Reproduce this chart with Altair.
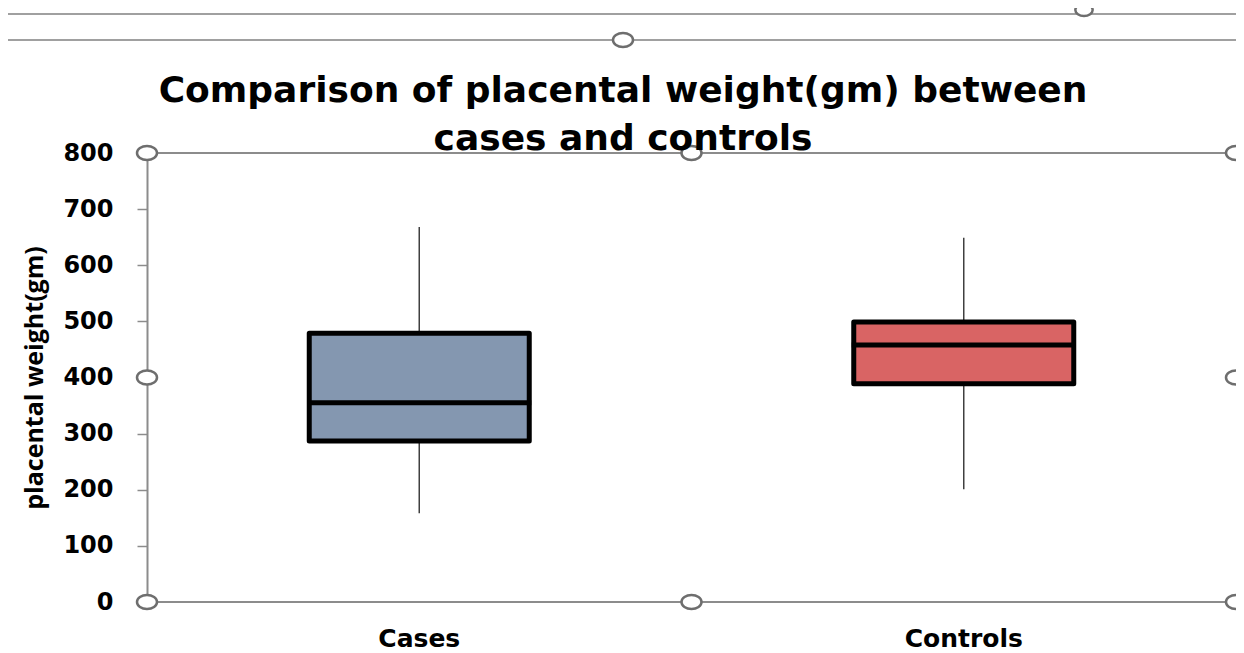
import altair as alt
import pandas as pd

# ---- data ----
groups = ["Cases", "Controls"]
whisker_low = [158, 201]
q1 = [287, 389]
median = [355, 458]
q3 = [479, 499]
whisker_high = [668, 649]
fill_colors = ["#8497B0", "#D96464"]
y_ticks = [0, 100, 200, 300, 400, 500, 600, 700, 800]

# plot-area frame (selection-style) lines and handles
frame_lines = [0, 800]
handle_x = [0, 0.5, 1, 0, 1, 0, 0.5, 1]
handle_y = [800, 800, 800, 400, 400, 0, 0, 0]

title_lines = ["Comparison of placental weight(gm) between", "cases and controls"]
y_title = "placental weight(gm)"

df = pd.DataFrame({
    "group": groups,
    "lo": whisker_low,
    "q1": q1,
    "median": median,
    "q3": q3,
    "hi": whisker_high,
})
frame_df = pd.DataFrame({"v": frame_lines})
handles_df = pd.DataFrame({"hx": handle_x, "hy": handle_y})
title_df = pd.DataFrame({"t": ["\n".join(title_lines)]})

yscale = alt.Scale(domain=[0, 800], nice=False, zero=True)
yaxis = alt.Axis(
    values=y_ticks, grid=False, title=y_title,
    domainColor="#8C8C8C", domainWidth=2,
    tickColor="#8C8C8C", tickSize=10, tickWidth=1.5,
    labelFont="DejaVu Sans", labelFontWeight="bold", labelFontSize=24,
    labelColor="black", labelPadding=24,
    titleFont="Open Sans", titleFontWeight="bold", titleFontSize=25,
    titleColor="black", titleX=-105, titleY=224.5, titleAngle=270,
    titleBaseline="alphabetic", titleAlign="center",
)

x = alt.X(
    "group:N",
    scale=alt.Scale(domain=groups, paddingInner=0, paddingOuter=0),
    axis=alt.Axis(
        title=None, labelAngle=0, ticks=False, tickSize=0, domain=False, grid=False,
        labelFont="DejaVu Sans", labelFontWeight="bold", labelFontSize=25,
        labelColor="black", labelPadding=44, labelBaseline="alphabetic",
    ),
)

base = alt.Chart(df)

whiskers = base.mark_rule(color="#404040", strokeWidth=1.5).encode(
    x=x,
    y=alt.Y("lo:Q", scale=yscale, axis=yaxis),
    y2="hi:Q",
)

boxes = base.mark_bar(size=220, stroke="black", strokeWidth=5, strokeJoin="round").encode(
    x=x,
    y=alt.Y("q1:Q", scale=yscale),
    y2="q3:Q",
    color=alt.Color("group:N", scale=alt.Scale(domain=groups, range=fill_colors), legend=None),
)

medians = base.mark_tick(color="black", thickness=5, size=224, opacity=1).encode(
    x=x,
    y=alt.Y("median:Q", scale=yscale),
)

frame = alt.Chart(frame_df).mark_rule(color="#8C8C8C", strokeWidth=2).encode(
    y=alt.Y("v:Q", scale=yscale),
)

box_layer = alt.layer(frame, whiskers, boxes, medians)

ellipse = "M -1 0 A 1 0.7 0 1 0 1 0 A 1 0.7 0 1 0 -1 0 Z"
handles = alt.Chart(handles_df).mark_point(
    shape=ellipse, size=400, filled=True, fill="white", stroke="#6E6E6E",
    strokeWidth=2.5, opacity=1,
).encode(
    x=alt.X("hx:Q", scale=alt.Scale(domain=[0, 1], nice=False, zero=False), axis=None),
    y=alt.Y("hy:Q", scale=yscale),
)

# chart title (two lines)
title = alt.Chart(title_df).mark_text(
    font="DejaVu Sans", fontSize=36, fontWeight="bold", color="black",
    lineBreak="\n", lineHeight=48, align="center", baseline="alphabetic",
).encode(text="t:N", x=alt.value(476), y=alt.value(-51))

# decorative outer selection frame above the chart
deco_df = pd.DataFrame({"k": [0]})
top_line1 = alt.Chart(deco_df).mark_rule(color="#A0A0A0", strokeWidth=2).encode(
    x=alt.value(-145), x2=alt.value(1100), y=alt.value(-139)
)
top_line2 = alt.Chart(deco_df).mark_rule(color="#A0A0A0", strokeWidth=2).encode(
    x=alt.value(-145), x2=alt.value(1100), y=alt.value(-113)
)
top_handle1 = alt.Chart(deco_df).mark_point(
    shape=ellipse, size=400, filled=True, fill="white", stroke="#6E6E6E",
    strokeWidth=2.5, opacity=1,
).encode(x=alt.value(476), y=alt.value(-113))
top_handle2 = alt.Chart(deco_df).mark_point(
    shape=ellipse, size=300, filled=True, fill="white", stroke="#6E6E6E",
    strokeWidth=2.5, opacity=1,
).encode(x=alt.value(937), y=alt.value(-143))

chart = alt.layer(
    top_line1, top_line2, top_handle1, top_handle2,
    box_layer, handles, title,
).resolve_scale(x="independent").properties(
    width=1089,
    height=449,
    padding={"left": 139, "top": 145, "right": 0, "bottom": 55},
    autosize=alt.AutoSizeParams(type="none"),
).configure_view(stroke="#C8C8C8", strokeWidth=1)

chart.save("out.html", embed_options={"renderer": "svg", "actions": False})
